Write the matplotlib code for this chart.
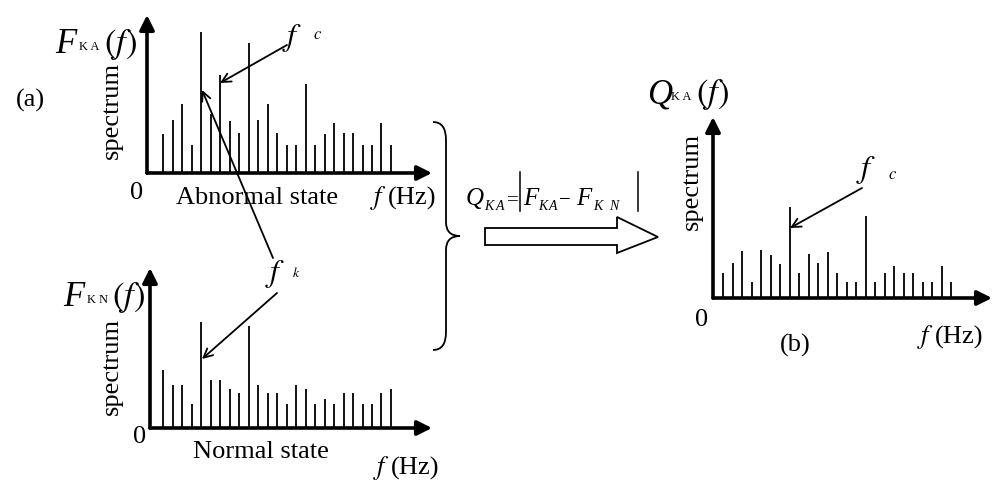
import numpy as np
import matplotlib
matplotlib.use("Agg")
from matplotlib import pyplot as plt
from matplotlib.path import Path
from matplotlib.patches import PathPatch, Polygon

plt.rcParams['font.family'] = ['Liberation Serif', 'DejaVu Serif']
plt.rcParams['mathtext.fontset'] = 'stix'

# spectrum line heights (25 lines per panel)
abnormal = [39, 53, 69, 28, 141, 59, 98, 52, 40, 130, 53, 69, 40, 28, 28,
            89, 28, 39, 50, 40, 40, 28, 28, 50, 28]
normal = [58, 43, 43, 24, 106, 48, 48, 39, 35, 102, 43, 35, 35, 24, 43,
          39, 24, 29, 24, 35, 35, 24, 24, 35, 39]
diff = [25, 35, 47, 16, 48, 43, 34, 91, 25, 44, 35, 46, 25, 16, 16,
        82, 16, 25, 32, 25, 25, 16, 16, 32, 16]
idx = np.arange(1, 26)

W, H = 1000, 494
fig = plt.figure(figsize=(10, 4.94), dpi=100)

# overlay axes in pixel units for annotations
ov = fig.add_axes([0, 0, 1, 1])
ov.set_xlim(0, W)
ov.set_ylim(H, 0)
ov.axis('off')


def panel(left, right, base, top, first, vals):
    # axes whose lower-left corner is the origin of the drawn axis arrows
    ax = fig.add_axes([left / W, 1 - base / H, (right - left) / W, (base - top) / H])
    step = 9.5
    ax.set_xlim(1 - (first - left) / step, 1 + (right - first) / step)
    ax.set_ylim(0, base - top)
    ax.vlines(idx, 0, vals, color='k', lw=1.3)
    ax.axis('off')
    arr = dict(arrowstyle='-|>', lw=2.6, color='k', mutation_scale=22, shrinkA=0, shrinkB=0)
    ax.annotate('', xy=(1, 0), xytext=(0, 0), xycoords='axes fraction', arrowprops=arr)
    ax.annotate('', xy=(0, 1), xytext=(0, 0), xycoords='axes fraction', arrowprops=arr)
    return ax


panel(147, 432, 173, 15, 163, abnormal)
panel(150, 432, 428, 268, 163, normal)
panel(713, 992, 298, 117, 723, diff)

fs = 19


def flabel(x, y, big, sub):
    # "F KA(f)" style label, baseline at y
    ov.text(x, y, big, fontsize=25, style='italic', va='baseline', ha='left')
    ov.text(x + 24, y - 3, sub, fontsize=9, va='baseline', ha='left')
    ov.text(x + 49, y, r'$(f)$', fontsize=25, va='baseline', ha='left')


flabel(55, 53, 'F', 'K A')
flabel(63, 306, 'F', 'K N')
flabel(647, 103, 'Q', 'K A')

# rotated axis titles
ov.text(112, 110, 'spectrum', fontsize=fs, rotation=90, ha='center', va='center')
ov.text(112, 366, 'spectrum', fontsize=fs, rotation=90, ha='center', va='center')
ov.text(692, 181, 'spectrum', fontsize=fs, rotation=90, ha='center', va='center')

# zeros
ov.text(137, 193, '0', fontsize=fs, ha='center', va='center')
ov.text(140, 437, '0', fontsize=fs, ha='center', va='center')
ov.text(702, 320, '0', fontsize=fs, ha='center', va='center')

# x axis titles
for x, y in [(370, 198), (373, 468), (917, 337)]:
    ov.text(x, y, r'$f$', fontsize=fs, ha='left', va='center')
    ov.text(x + 18, y, '(Hz)', fontsize=fs, ha='left', va='center')

ov.text(257, 198, 'Abnormal state', fontsize=fs, ha='center', va='center')
ov.text(261, 452, 'Normal state', fontsize=fs, ha='center', va='center')
ov.text(30, 100, '(a)', fontsize=fs, ha='center', va='center')
ov.text(795, 345, '(b)', fontsize=fs, ha='center', va='center')

# f_c / f_k markers
thin = dict(arrowstyle='->', lw=1.3, color='k', mutation_scale=16, shrinkA=0, shrinkB=0)
ov.text(292, 38, r'$f$', fontsize=23, ha='center', va='center')
ov.text(318, 35, r'$c$', fontsize=12, ha='center', va='center')
ov.annotate('', xy=(220, 83), xytext=(287, 45), arrowprops=thin)

ov.text(866, 170, r'$f$', fontsize=23, ha='center', va='center')
ov.text(893, 175, r'$c$', fontsize=12, ha='center', va='center')
ov.annotate('', xy=(790, 228), xytext=(862, 188), arrowprops=thin)

ov.text(275, 274, r'$f$', fontsize=23, ha='center', va='center')
ov.text(296, 273, r'$k$', fontsize=10, ha='center', va='center')
ov.annotate('', xy=(202, 90), xytext=(273, 258), arrowprops=thin)
ov.annotate('', xy=(202, 359), xytext=(277, 293), arrowprops=thin)

# curly brace
verts = [(433, 122), (446, 122), (446, 140),
         (446, 222),
         (446, 236), (460, 236),
         (446, 236), (446, 250),
         (446, 332),
         (446, 350), (433, 350)]
codes = [Path.MOVETO, Path.CURVE3, Path.CURVE3,
         Path.LINETO,
         Path.CURVE3, Path.CURVE3,
         Path.CURVE3, Path.CURVE3,
         Path.LINETO,
         Path.CURVE3, Path.CURVE3]
ov.add_patch(PathPatch(Path(verts, codes), fc='none', ec='k', lw=1.3))

# formula Q_KA = |F_KA - F_KN| built piece by piece
big = dict(fontsize=18, style='italic', va='baseline', ha='left')
sml = dict(fontsize=10, style='italic', va='baseline', ha='left')
ov.text(466, 205, 'Q', **big)
ov.text(484, 210, 'K', **sml)
ov.text(496, 210, 'A', **sml)
ov.text(507, 205, '=', fontsize=15, va='baseline', ha='left')
ov.plot([520, 520], [172, 211], color='k', lw=1.1)
ov.text(523, 205, 'F', **big)
ov.text(538, 210, 'K', **sml)
ov.text(549, 210, 'A', **sml)
ov.text(559, 205, '\u2212', fontsize=15, va='baseline', ha='left')
ov.text(576, 205, 'F', **big)
ov.text(593, 210, 'K', **sml)
ov.text(609, 210, 'N', **sml)
ov.plot([638, 638], [172, 211], color='k', lw=1.1)

# hollow block arrow
ov.add_patch(Polygon([(485, 228), (617, 228), (617, 217), (658, 237),
                      (617, 253), (617, 245), (485, 245)],
                     closed=True, fc='white', ec='k', lw=1.3))

fig.savefig('out.png', dpi=100)
